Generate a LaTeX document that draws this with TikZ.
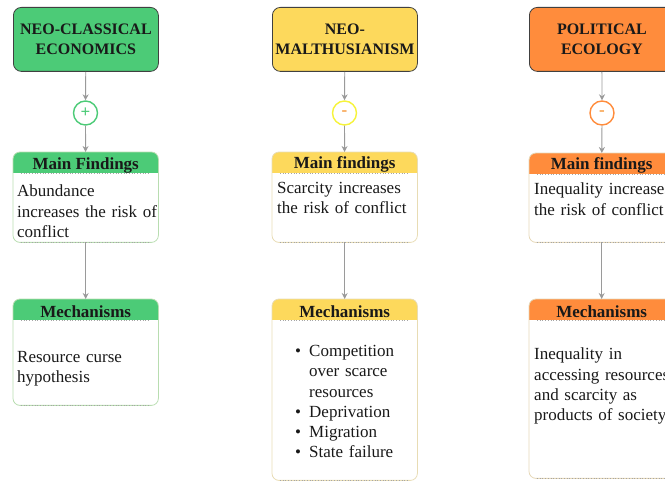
\documentclass[tikz,border=0pt]{standalone}
\usepackage{fontspec}
\setmainfont{Liberation Serif}
\usetikzlibrary{arrows.meta,calc}
\definecolor{cgreen}{HTML}{4CCB77}
\definecolor{cyellow}{HTML}{FDD95C}
\definecolor{corange}{HTML}{FF8C3C}
\definecolor{cgreenline}{HTML}{B8DDB0}
\definecolor{cyellowline}{HTML}{E8DCB4}
\definecolor{corangeline}{HTML}{E6D8B8}
\definecolor{ccirc}{HTML}{F6F33A}
\definecolor{cminus}{HTML}{F79A3E}
\definecolor{carrow}{HTML}{9A9A9A}
\tikzset{
  topbox/.style={draw=black!75, line width=0.8pt, rounded corners=8pt, minimum width=145pt, minimum height=64pt, anchor=north west, inner sep=0pt},
  title/.style={font=\fontsize{16}{19.5}\selectfont\bfseries, align=center, text=black!90},
  sign/.style={circle, fill=white, line width=1.4pt, minimum size=24pt, inner sep=0pt, font=\fontsize{17}{17}\selectfont\bfseries},
  card/.style={minimum width=145pt, anchor=north west, inner sep=0pt, rounded corners=7pt},
  hdr/.style={font=\fontsize{17}{20}\selectfont\bfseries, text=black!90, inner sep=0pt},
  body/.style={font=\fontsize{17}{20.3}\selectfont, align=left, anchor=north west, inner sep=0pt, text width=140pt, text=black!90},
  conn/.style={draw=carrow, line width=0.9pt, -{Stealth[length=6pt,width=6pt]}},
}
\newcommand{\cardheader}[3]{% node, colour, line colour
  \begin{scope}
    \clip[rounded corners=7pt] (#1.north west) rectangle (#1.south east);
    \fill[#2] (#1.north west) rectangle ($(#1.north east)+(0,21.5)$);
  \end{scope}
  \draw[#3, line width=0.8pt, rounded corners=7pt] (#1.north west) rectangle (#1.south east);
  \draw[black!35, dotted, line width=0.7pt] ($(#1.south west)+(8,0)$) -- ($(#1.south east)+(-8,0)$);
  \draw[black!35, dotted, line width=0.7pt] ($(#1.north west)+(8,21.5)$) -- ($(#1.north east)+(-8,21.5)$);
}
\begin{document}
\begin{tikzpicture}[x=1pt,y=-1pt]
\useasboundingbox (0,0) rectangle (665,481);
\clip (0,0) rectangle (665,481);

% ---------- column 1 ----------
\node[topbox, fill=cgreen] (t1) at (13,7) {};
\node[title] at (t1.center) {NEO-CLASSICAL\\ECONOMICS};
\node[sign, draw=cgreen, text=cgreen] (c1) at (85.5,113) {+};
\node[card, minimum height=90pt] (f1) at (13,152) {};
\cardheader{f1}{cgreen}{cgreenline}
\node[hdr] at ($(f1.north)+(0,13.5)$) {Main Findings};
\node[body] at (17,185) {Abundance\\increases the risk of\\conflict};
\node[card, minimum height=106pt] (m1) at (13,299) {};
\cardheader{m1}{cgreen}{cgreenline}
\node[hdr] at ($(m1.north)+(0,13)$) {Mechanisms};
\node[body] at (17,351) {Resource curse\\hypothesis};
\draw[conn] (t1) -- (c1);
\draw[conn] (c1) -- (f1);
\draw[conn] (f1) -- (m1);

% ---------- column 2 ----------
\node[topbox, fill=cyellow] (t2) at (272,7) {};
\node[title] at (t2.center) {NEO-\\MALTHUSIANISM};
\node[sign, draw=ccirc, text=cminus] (c2) at (344.5,113) {-};
\node[card, minimum height=90pt] (f2) at (272,152) {};
\cardheader{f2}{cyellow}{cyellowline}
\node[hdr] at ($(f2.north)+(0,12.5)$) {Main findings};
\node[body] at (277,182) {Scarcity increases\\the risk of conflict};
\node[card, minimum height=181pt] (m2) at (272,299) {};
\cardheader{m2}{cyellow}{cyellowline}
\node[hdr] at ($(m2.north)+(0,12.5)$) {Mechanisms};
\node[body, text width=120pt] at (295,345) {%
  \makebox[14pt][l]{\textbullet}Competition\\
  \hspace*{14pt}over scarce\\
  \hspace*{14pt}resources\\
  \makebox[14pt][l]{\textbullet}Deprivation\\
  \makebox[14pt][l]{\textbullet}Migration\\
  \makebox[14pt][l]{\textbullet}State failure};
\draw[conn] (t2) -- (c2);
\draw[conn] (c2) -- (f2);
\draw[conn] (f2) -- (m2);

% ---------- column 3 ----------
\node[topbox, fill=corange] (t3) at (529,7) {};
\node[title] at (t3.center) {POLITICAL\\ECOLOGY};
\node[sign, draw=corange, text=cminus] (c3) at (602,113) {-};
\node[card, minimum height=89pt] (f3) at (529,153) {};
\cardheader{f3}{corange}{corangeline}
\node[hdr] at ($(f3.north)+(0,12.5)$) {Main findings};
\node[body, text width=160pt] at (534,183) {Inequality increases\\the risk of conflict};
\node[card, minimum height=179pt] (m3) at (529,299) {};
\cardheader{m3}{corange}{corangeline}
\node[hdr] at ($(m3.north)+(0,12.5)$) {Mechanisms};
\node[body, text width=160pt] at (534,348) {Inequality in\\accessing resources\\and scarcity as\\products of society};
\draw[conn] (t3) -- (c3);
\draw[conn] (c3) -- (f3);
\draw[conn] (f3) -- (m3);
\end{tikzpicture}
\end{document}
